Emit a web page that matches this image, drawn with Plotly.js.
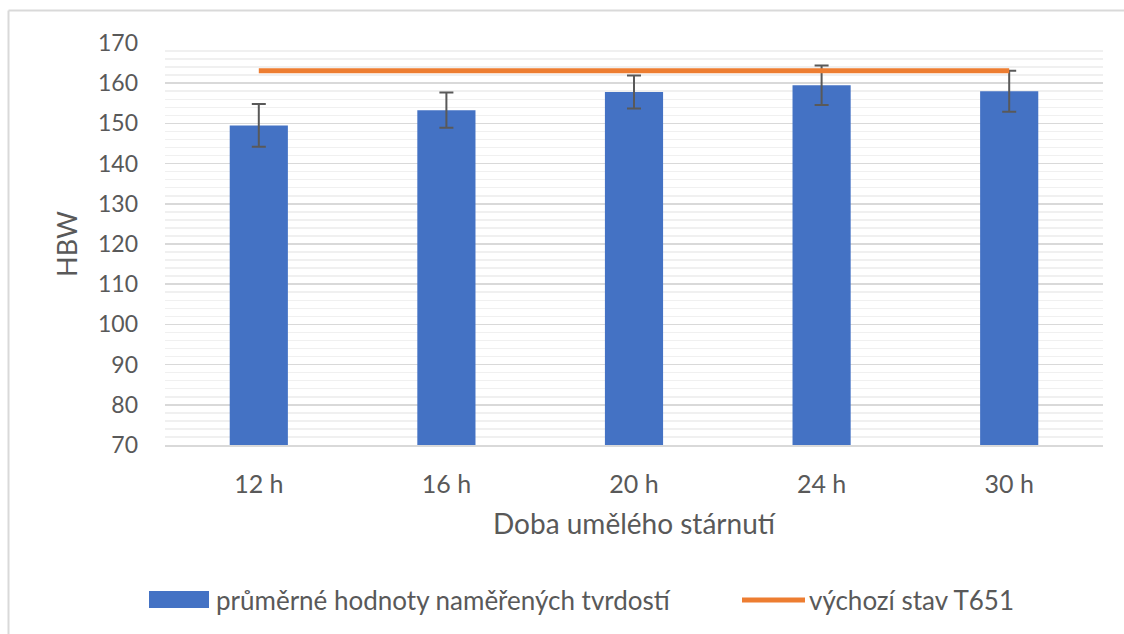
<!DOCTYPE html>
<html>
<head>
<meta charset="utf-8">
<script src="https://cdn.plot.ly/plotly-3.0.1.min.js"></script>
<style>html,body{margin:0;padding:0;background:#fff;}#chart{width:1124px;height:634px;}</style>
</head>
<body>
<div id="chart"></div>
<script>
const categories = ["12 h", "16 h", "20 h", "24 h", "30 h"];
const hardness = [149.5, 153.3, 157.8, 159.5, 158.0];
const hardnessErr = [5.3, 4.4, 4.1, 4.9, 5.1];
const baseline = [163.1, 163.1, 163.1, 163.1, 163.1];
const seriesNames = ["průměrné hodnoty naměřených tvrdostí", "výchozí stav T651"];
const xTitle = "Doba umělého stárnutí";
const yTitle = "HBW";

const FONT = "Lato, 'Open Sans', sans-serif";
const TXT = "#595959";
const L = 165, R = 1103, T = 43, B = 445, W = 1124, H = 634;
const px = x => (x - L) / (R - L);
const py = y => (B - y) / (B - T);

const traces = [
  {
    type: "bar", x: categories, y: hardness, name: seriesNames[0],
    marker: {color: "#4472C4"},
    error_y: {type: "data", array: hardnessErr, visible: true, color: "#595959", thickness: 2, width: 7},
    showlegend: false, hoverinfo: "x+y"
  },
  {
    type: "scatter", mode: "lines", x: categories, y: baseline, name: seriesNames[1],
    line: {color: "#ED7D31", width: 5},
    showlegend: false
  }
];

const layout = {
  width: W, height: H,
  paper_bgcolor: "#fff", plot_bgcolor: "#fff",
  margin: {l: L, r: W - R, t: T, b: H - B},
  bargap: 0.69,
  font: {family: FONT, color: TXT, size: 23},
  xaxis: {
    type: "category", showgrid: false, zeroline: false,
    showline: true, linecolor: "#d9d9d9", linewidth: 1.5,
    ticks: "", ticklabelstandoff: 16,
    tickfont: {family: FONT, color: TXT, size: 25},
    title: {text: xTitle, font: {family: FONT, color: TXT, size: 28}, standoff: 18},
    automargin: false, fixedrange: true
  },
  yaxis: {
    range: [70, 170], dtick: 10, tick0: 70,
    showgrid: true, gridcolor: "#d9d9d9", gridwidth: 1.5,
    minor: {dtick: 2, showgrid: true, gridcolor: "#f0f0f0", gridwidth: 1.5},
    zeroline: false, showline: false, ticks: "", ticklabelstandoff: 26,
    tickfont: {family: FONT, color: TXT, size: 23},
    title: {text: yTitle, font: {family: FONT, color: TXT, size: 27}, standoff: 12},
    automargin: false, fixedrange: true
  },
  shapes: [
    {type: "line", xref: "paper", yref: "paper", x0: px(8.5), x1: px(8.5), y0: py(H + 5), y1: py(10.5), line: {color: "#d9d9d9", width: 2}},
    {type: "line", xref: "paper", yref: "paper", x0: px(8.5), x1: px(W + 5), y0: py(10.5), y1: py(10.5), line: {color: "#d9d9d9", width: 2}},
    {type: "rect", xref: "paper", yref: "paper", x0: px(149), x1: px(209), y0: py(608), y1: py(591), fillcolor: "#4472C4", line: {width: 0}},
    {type: "line", xref: "paper", yref: "paper", x0: px(742), x1: px(805), y0: py(600), y1: py(600), line: {color: "#ED7D31", width: 5}}
  ],
  annotations: [
    {xref: "paper", yref: "paper", x: px(214), y: py(600), xanchor: "left", yanchor: "middle", showarrow: false, text: seriesNames[0], font: {family: FONT, color: TXT, size: 26}},
    {xref: "paper", yref: "paper", x: px(807), y: py(600), xanchor: "left", yanchor: "middle", showarrow: false, text: seriesNames[1], font: {family: FONT, color: TXT, size: 26}}
  ]
};

Plotly.newPlot("chart", traces, layout, {displayModeBar: false, staticPlot: true});
</script>
</body>
</html>
